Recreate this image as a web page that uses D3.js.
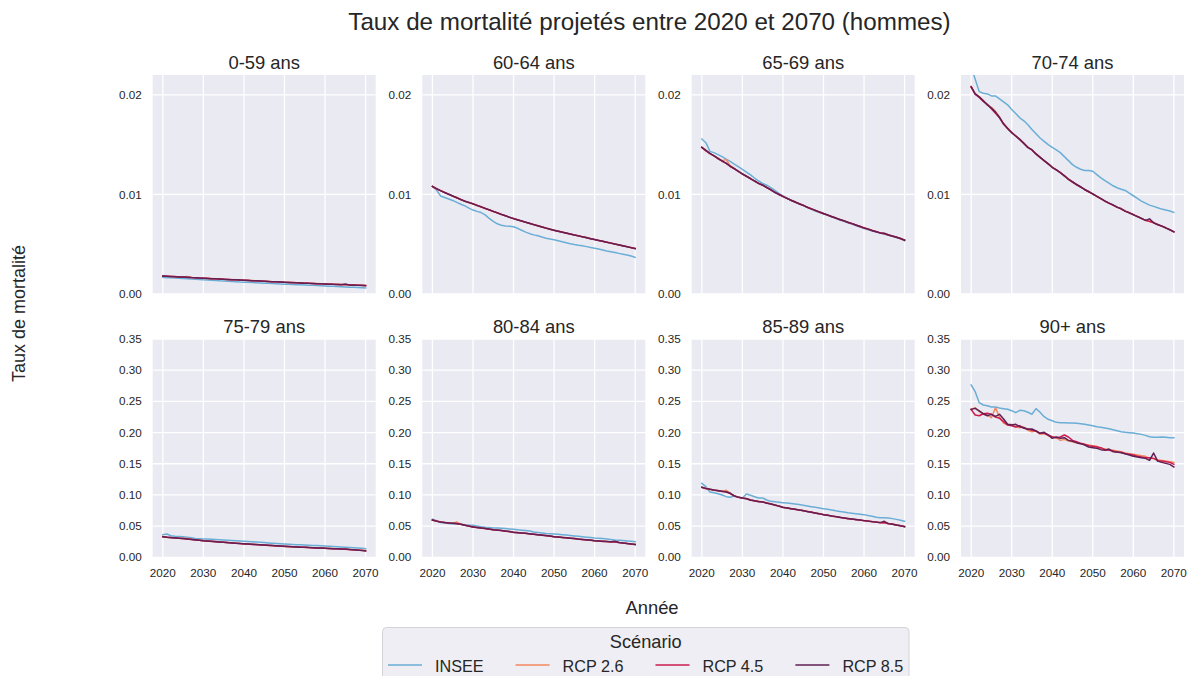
<!DOCTYPE html>
<html><head><meta charset="utf-8">
<script src="https://cdn.jsdelivr.net/npm/d3@7"></script>
<style>
body{margin:0;background:#fff;}
text{font-family:"Liberation Sans",Arial,Helvetica,sans-serif;fill:#262626;}
</style>
</head><body>
<svg id="chart" width="1190" height="676"></svg>
<script>
const years=[2020,2021,2022,2023,2024,2025,2026,2027,2028,2029,2030,2031,2032,2033,2034,2035,2036,2037,2038,2039,2040,2041,2042,2043,2044,2045,2046,2047,2048,2049,2050,2051,2052,2053,2054,2055,2056,2057,2058,2059,2060,2061,2062,2063,2064,2065,2066,2067,2068,2069,2070];
const scenarios=["INSEE","RCP 2.6","RCP 4.5","RCP 8.5"];
const scenarioColors=["#6aaed6","#f3875f","#cb1b4f","#611f53"];
const panelTitles=["0-59 ans","60-64 ans","65-69 ans","70-74 ans","75-79 ans","80-84 ans","85-89 ans","90+ ans"];
const xTicks=[2020,2030,2040,2050,2060,2070];
const yTicksTop=[0,0.01,0.02];
const yTicksBottom=[0,0.05,0.10,0.15,0.20,0.25,0.30,0.35];
const mainTitle="Taux de mortalité projetés entre 2020 et 2070 (hommes)";
const xLabel="Année", yLabel="Taux de mortalité", legendTitle="Scénario";

// 0-59 ans
const insee_0_59=[0.00167,0.00164,0.00162,0.00160,0.00157,0.00155,0.00153,0.00150,0.00148,0.00146,0.00143,0.00141,0.00138,0.00136,0.00133,0.00131,0.00129,0.00126,0.00124,0.00121,0.00119,0.00117,0.00115,0.00113,0.00111,0.00109,0.00107,0.00105,0.00103,0.00101,0.00099,0.00097,0.00095,0.00094,0.00092,0.00090,0.00088,0.00087,0.00085,0.00083,0.00081,0.00079,0.00077,0.00075,0.00073,0.00071,0.00069,0.00067,0.00065,0.00063,0.00061];
const rcp26_0_59=[0.00181,0.00178,0.00177,0.00174,0.00173,0.00171,0.00175,0.00165,0.00163,0.00161,0.00159,0.00156,0.00155,0.00152,0.00150,0.00149,0.00146,0.00145,0.00142,0.00141,0.00139,0.00136,0.00135,0.00132,0.00131,0.00128,0.00127,0.00124,0.00123,0.00121,0.00119,0.00117,0.00115,0.00113,0.00112,0.00110,0.00108,0.00106,0.00105,0.00103,0.00102,0.00100,0.00098,0.00097,0.00095,0.00094,0.00092,0.00091,0.00089,0.00088,0.00086];
const rcp45_0_59=[0.00180,0.00179,0.00176,0.00175,0.00172,0.00170,0.00167,0.00165,0.00162,0.00160,0.00158,0.00157,0.00154,0.00152,0.00151,0.00148,0.00146,0.00144,0.00143,0.00140,0.00138,0.00137,0.00134,0.00132,0.00130,0.00129,0.00126,0.00124,0.00122,0.00121,0.00118,0.00116,0.00115,0.00113,0.00111,0.00109,0.00108,0.00106,0.00104,0.00103,0.00101,0.00099,0.00098,0.00096,0.00095,0.00093,0.00092,0.00090,0.00088,0.00087,0.00085];
const rcp85_0_59=[0.00180,0.00178,0.00176,0.00174,0.00172,0.00170,0.00168,0.00165,0.00163,0.00160,0.00158,0.00156,0.00154,0.00152,0.00150,0.00148,0.00146,0.00144,0.00142,0.00140,0.00138,0.00136,0.00134,0.00132,0.00130,0.00128,0.00126,0.00124,0.00122,0.00120,0.00118,0.00116,0.00114,0.00113,0.00111,0.00109,0.00107,0.00106,0.00104,0.00102,0.00101,0.00099,0.00097,0.00096,0.00094,0.00100,0.00091,0.00089,0.00088,0.00086,0.00084];

// 60-64 ans
const insee_60_64=[0.01080,0.01045,0.00985,0.00970,0.00955,0.00940,0.00920,0.00902,0.00885,0.00862,0.00843,0.00830,0.00818,0.00795,0.00760,0.00730,0.00705,0.00690,0.00682,0.00680,0.00675,0.00660,0.00640,0.00622,0.00606,0.00594,0.00585,0.00572,0.00560,0.00552,0.00545,0.00535,0.00525,0.00515,0.00505,0.00497,0.00490,0.00484,0.00476,0.00468,0.00460,0.00452,0.00443,0.00433,0.00425,0.00417,0.00408,0.00400,0.00392,0.00382,0.00368];
const rcp26_60_64=[0.01081,0.01058,0.01037,0.01021,0.01001,0.00985,0.00972,0.00948,0.00931,0.00920,0.00904,0.00891,0.00874,0.00861,0.00844,0.00831,0.00814,0.00801,0.00785,0.00772,0.00756,0.00746,0.00732,0.00722,0.00708,0.00698,0.00684,0.00675,0.00661,0.00652,0.00639,0.00632,0.00620,0.00613,0.00601,0.00594,0.00583,0.00576,0.00565,0.00557,0.00546,0.00539,0.00528,0.00521,0.00510,0.00503,0.00492,0.00485,0.00474,0.00467,0.00458];
const rcp45_60_64=[0.01080,0.01057,0.01039,0.01019,0.01003,0.00983,0.00967,0.00948,0.00933,0.00918,0.00906,0.00889,0.00876,0.00859,0.00846,0.00829,0.00816,0.00799,0.00787,0.00770,0.00758,0.00744,0.00734,0.00720,0.00710,0.00696,0.00686,0.00673,0.00663,0.00650,0.00641,0.00630,0.00622,0.00611,0.00603,0.00592,0.00585,0.00574,0.00567,0.00555,0.00548,0.00537,0.00530,0.00519,0.00512,0.00501,0.00494,0.00483,0.00476,0.00465,0.00456];
const rcp85_60_64=[0.01080,0.01058,0.01038,0.01020,0.01002,0.00984,0.00966,0.00949,0.00932,0.00919,0.00905,0.00890,0.00875,0.00860,0.00845,0.00830,0.00815,0.00800,0.00786,0.00771,0.00757,0.00745,0.00733,0.00721,0.00709,0.00697,0.00685,0.00674,0.00662,0.00651,0.00640,0.00631,0.00621,0.00612,0.00602,0.00593,0.00584,0.00575,0.00566,0.00556,0.00547,0.00538,0.00529,0.00520,0.00511,0.00502,0.00493,0.00484,0.00475,0.00466,0.00457];

// 65-69 ans
const insee_65_69=[0.01557,0.01520,0.01433,0.01420,0.01400,0.01380,0.01355,0.01332,0.01305,0.01280,0.01253,0.01225,0.01197,0.01165,0.01135,0.01112,0.01093,0.01068,0.01040,0.01010,0.00985,0.00962,0.00940,0.00921,0.00907,0.00891,0.00870,0.00850,0.00834,0.00818,0.00805,0.00790,0.00775,0.00760,0.00744,0.00730,0.00716,0.00702,0.00688,0.00673,0.00658,0.00645,0.00633,0.00622,0.00612,0.00600,0.00590,0.00579,0.00567,0.00555,0.00538];
const rcp26_65_69=[0.01475,0.01445,0.01410,0.01386,0.01365,0.01340,0.01350,0.01290,0.01262,0.01230,0.01210,0.01180,0.01162,0.01133,0.01115,0.01090,0.01072,0.01045,0.01025,0.00998,0.00982,0.00958,0.00944,0.00922,0.00909,0.00888,0.00874,0.00853,0.00842,0.00821,0.00810,0.00791,0.00780,0.00761,0.00751,0.00733,0.00723,0.00705,0.00695,0.00676,0.00666,0.00650,0.00640,0.00624,0.00616,0.00608,0.00591,0.00584,0.00568,0.00560,0.00538];
const rcp45_65_69=[0.01470,0.01437,0.01410,0.01390,0.01358,0.01334,0.01315,0.01281,0.01258,0.01235,0.01203,0.01185,0.01157,0.01137,0.01110,0.01095,0.01068,0.01049,0.01020,0.01002,0.00978,0.00962,0.00940,0.00926,0.00905,0.00892,0.00870,0.00857,0.00838,0.00825,0.00806,0.00795,0.00776,0.00765,0.00747,0.00737,0.00719,0.00709,0.00691,0.00680,0.00662,0.00654,0.00636,0.00628,0.00612,0.00605,0.00595,0.00580,0.00572,0.00556,0.00542];
const rcp85_65_69=[0.01473,0.01442,0.01412,0.01388,0.01362,0.01337,0.01312,0.01285,0.01260,0.01232,0.01207,0.01183,0.01160,0.01135,0.01112,0.01093,0.01070,0.01047,0.01022,0.01000,0.00980,0.00960,0.00942,0.00924,0.00907,0.00890,0.00872,0.00855,0.00840,0.00823,0.00808,0.00793,0.00778,0.00763,0.00749,0.00735,0.00721,0.00707,0.00693,0.00678,0.00664,0.00652,0.00638,0.00626,0.00614,0.00611,0.00593,0.00582,0.00570,0.00558,0.00540];

// 70-74 ans
const insee_70_74=[0.02290,0.02157,0.02033,0.02017,0.02010,0.01990,0.01990,0.01960,0.01930,0.01900,0.01853,0.01813,0.01770,0.01740,0.01700,0.01653,0.01610,0.01567,0.01533,0.01500,0.01473,0.01447,0.01420,0.01380,0.01340,0.01300,0.01273,0.01253,0.01240,0.01240,0.01233,0.01200,0.01167,0.01140,0.01113,0.01087,0.01067,0.01053,0.01040,0.01013,0.00987,0.00960,0.00933,0.00913,0.00893,0.00880,0.00867,0.00853,0.00843,0.00833,0.00820];
const rcp26_70_74=[0.02078,0.02012,0.01982,0.01945,0.01898,0.01875,0.01835,0.01778,0.01705,0.01668,0.01625,0.01583,0.01557,0.01510,0.01476,0.01444,0.01410,0.01370,0.01342,0.01305,0.01276,0.01244,0.01222,0.01184,0.01156,0.01122,0.01102,0.01072,0.01053,0.01024,0.01008,0.00977,0.00961,0.00930,0.00916,0.00890,0.00876,0.00852,0.00836,0.00812,0.00800,0.00775,0.00763,0.00737,0.00732,0.00712,0.00700,0.00680,0.00667,0.00643,0.00627];
const rcp45_70_74=[0.02085,0.02005,0.01975,0.01935,0.01905,0.01860,0.01815,0.01770,0.01712,0.01665,0.01622,0.01590,0.01550,0.01515,0.01470,0.01450,0.01405,0.01375,0.01338,0.01310,0.01270,0.01250,0.01218,0.01190,0.01150,0.01128,0.01097,0.01078,0.01047,0.01030,0.01002,0.00983,0.00955,0.00936,0.00910,0.00896,0.00870,0.00858,0.00830,0.00818,0.00795,0.00780,0.00757,0.00742,0.00728,0.00718,0.00695,0.00684,0.00662,0.00647,0.00622];
const rcp85_70_74=[0.02080,0.02010,0.01980,0.01940,0.01900,0.01867,0.01827,0.01773,0.01707,0.01660,0.01620,0.01587,0.01553,0.01513,0.01473,0.01447,0.01407,0.01373,0.01340,0.01307,0.01273,0.01247,0.01220,0.01187,0.01153,0.01125,0.01100,0.01075,0.01050,0.01027,0.01005,0.00980,0.00958,0.00933,0.00913,0.00893,0.00873,0.00855,0.00833,0.00815,0.00798,0.00778,0.00760,0.00740,0.00755,0.00715,0.00698,0.00682,0.00665,0.00645,0.00625];

// 75-79 ans
const insee_75_79=[0.0363,0.0374,0.0345,0.0338,0.0333,0.0328,0.0322,0.0312,0.0303,0.0298,0.0294,0.0292,0.0290,0.0287,0.0283,0.0279,0.0275,0.0271,0.0267,0.0262,0.0257,0.0252,0.0248,0.0244,0.0240,0.0236,0.0231,0.0226,0.0222,0.0218,0.0214,0.0210,0.0206,0.0203,0.0200,0.0197,0.0194,0.0191,0.0188,0.0185,0.0182,0.0178,0.0175,0.0171,0.0167,0.0163,0.0158,0.0154,0.0149,0.0144,0.0139];
const rcp26_75_79=[0.0332,0.0321,0.0317,0.0310,0.0307,0.0299,0.0305,0.0286,0.0281,0.0272,0.0267,0.0260,0.0257,0.0250,0.0247,0.0240,0.0237,0.0230,0.0227,0.0220,0.0217,0.0211,0.0209,0.0203,0.0201,0.0195,0.0193,0.0187,0.0185,0.0179,0.0177,0.0171,0.0170,0.0165,0.0164,0.0159,0.0158,0.0153,0.0152,0.0147,0.0146,0.0141,0.0140,0.0135,0.0134,0.0129,0.0126,0.0122,0.0117,0.0112,0.0107];
const rcp45_75_79=[0.0330,0.0323,0.0315,0.0312,0.0305,0.0301,0.0293,0.0288,0.0279,0.0274,0.0265,0.0262,0.0255,0.0252,0.0245,0.0242,0.0235,0.0232,0.0225,0.0222,0.0215,0.0213,0.0207,0.0205,0.0199,0.0197,0.0191,0.0189,0.0183,0.0181,0.0175,0.0173,0.0168,0.0167,0.0162,0.0161,0.0156,0.0155,0.0150,0.0149,0.0144,0.0143,0.0138,0.0137,0.0132,0.0131,0.0126,0.0121,0.0116,0.0111,0.0106];
const rcp85_75_79=[0.0331,0.0322,0.0316,0.0311,0.0306,0.0300,0.0294,0.0287,0.0280,0.0273,0.0266,0.0261,0.0256,0.0251,0.0246,0.0241,0.0236,0.0231,0.0226,0.0221,0.0216,0.0212,0.0208,0.0204,0.0200,0.0196,0.0192,0.0188,0.0184,0.0180,0.0176,0.0172,0.0169,0.0166,0.0163,0.0160,0.0157,0.0154,0.0151,0.0148,0.0145,0.0142,0.0139,0.0136,0.0133,0.0135,0.0125,0.0120,0.0115,0.0110,0.0104];

// 80-84 ans
const insee_80_84=[0.0609,0.0585,0.0556,0.0548,0.0540,0.0534,0.0540,0.0530,0.0522,0.0516,0.0513,0.0500,0.0490,0.0482,0.0476,0.0470,0.0470,0.0466,0.0461,0.0455,0.0449,0.0442,0.0435,0.0428,0.0420,0.0406,0.0398,0.0390,0.0383,0.0378,0.0374,0.0368,0.0362,0.0356,0.0349,0.0342,0.0336,0.0330,0.0323,0.0316,0.0310,0.0306,0.0301,0.0294,0.0286,0.0278,0.0273,0.0268,0.0262,0.0256,0.0251];
const rcp26_80_84=[0.0599,0.0579,0.0567,0.0556,0.0552,0.0544,0.0566,0.0529,0.0516,0.0499,0.0486,0.0476,0.0471,0.0461,0.0453,0.0441,0.0438,0.0429,0.0422,0.0411,0.0401,0.0394,0.0391,0.0383,0.0378,0.0369,0.0363,0.0354,0.0349,0.0339,0.0331,0.0323,0.0320,0.0312,0.0308,0.0299,0.0293,0.0285,0.0281,0.0274,0.0266,0.0260,0.0258,0.0252,0.0251,0.0245,0.0239,0.0228,0.0223,0.0213,0.0206];
const rcp45_80_84=[0.0597,0.0582,0.0565,0.0558,0.0550,0.0546,0.0538,0.0531,0.0513,0.0502,0.0484,0.0478,0.0468,0.0463,0.0450,0.0443,0.0435,0.0431,0.0419,0.0413,0.0399,0.0396,0.0388,0.0385,0.0375,0.0371,0.0360,0.0356,0.0346,0.0341,0.0329,0.0325,0.0317,0.0314,0.0305,0.0301,0.0291,0.0287,0.0278,0.0276,0.0264,0.0262,0.0255,0.0254,0.0246,0.0244,0.0236,0.0230,0.0221,0.0215,0.0204];
const rcp85_80_84=[0.0598,0.0580,0.0566,0.0557,0.0551,0.0545,0.0540,0.0530,0.0515,0.0500,0.0485,0.0477,0.0470,0.0462,0.0452,0.0442,0.0437,0.0430,0.0421,0.0412,0.0400,0.0395,0.0390,0.0384,0.0377,0.0370,0.0362,0.0355,0.0348,0.0340,0.0330,0.0324,0.0319,0.0313,0.0307,0.0300,0.0292,0.0286,0.0280,0.0275,0.0265,0.0261,0.0257,0.0253,0.0250,0.0258,0.0238,0.0229,0.0222,0.0214,0.0205];

// 85-89 ans
const insee_85_89=[0.1186,0.1132,0.1047,0.1036,0.1018,0.0999,0.0972,0.0962,0.0983,0.0962,0.0951,0.1015,0.0994,0.0972,0.0951,0.0951,0.0919,0.0897,0.0890,0.0883,0.0876,0.0870,0.0863,0.0855,0.0845,0.0833,0.0822,0.0812,0.0802,0.0791,0.0780,0.0770,0.0758,0.0746,0.0736,0.0726,0.0716,0.0708,0.0700,0.0692,0.0684,0.0670,0.0658,0.0641,0.0636,0.0633,0.0630,0.0620,0.0608,0.0594,0.0577];
const rcp26_85_89=[0.1125,0.1108,0.1088,0.1080,0.1066,0.1060,0.1075,0.1030,0.0980,0.0968,0.0953,0.0938,0.0922,0.0903,0.0898,0.0885,0.0875,0.0852,0.0843,0.0818,0.0804,0.0788,0.0783,0.0768,0.0763,0.0746,0.0738,0.0720,0.0713,0.0695,0.0687,0.0672,0.0666,0.0650,0.0644,0.0628,0.0624,0.0611,0.0608,0.0595,0.0591,0.0578,0.0575,0.0562,0.0559,0.0550,0.0543,0.0528,0.0521,0.0503,0.0494];
const rcp45_85_89=[0.1120,0.1100,0.1093,0.1075,0.1070,0.1055,0.1050,0.1022,0.0985,0.0962,0.0948,0.0942,0.0915,0.0908,0.0892,0.0889,0.0868,0.0858,0.0836,0.0823,0.0798,0.0793,0.0777,0.0772,0.0757,0.0750,0.0732,0.0725,0.0707,0.0700,0.0681,0.0677,0.0660,0.0655,0.0638,0.0633,0.0618,0.0616,0.0602,0.0600,0.0585,0.0583,0.0569,0.0567,0.0553,0.0557,0.0537,0.0533,0.0515,0.0508,0.0488];
const rcp85_85_89=[0.1122,0.1105,0.1090,0.1078,0.1068,0.1058,0.1047,0.1026,0.0983,0.0965,0.0951,0.0940,0.0919,0.0905,0.0895,0.0887,0.0872,0.0855,0.0840,0.0820,0.0801,0.0790,0.0780,0.0770,0.0760,0.0748,0.0735,0.0722,0.0710,0.0697,0.0684,0.0674,0.0663,0.0652,0.0641,0.0630,0.0621,0.0613,0.0605,0.0597,0.0588,0.0580,0.0572,0.0564,0.0556,0.0577,0.0540,0.0530,0.0518,0.0505,0.0491];

// 90+ ans
const insee_90p=[0.2763,0.2655,0.2479,0.2442,0.2431,0.2410,0.2410,0.2394,0.2383,0.2373,0.2351,0.2319,0.2357,0.2350,0.2325,0.2293,0.2383,0.2325,0.2254,0.2212,0.2190,0.2164,0.2159,0.2159,0.2153,0.2153,0.2148,0.2142,0.2132,0.2121,0.2110,0.2094,0.2084,0.2073,0.2062,0.2046,0.2030,0.2014,0.2004,0.1998,0.1993,0.1982,0.1971,0.1955,0.1934,0.1923,0.1923,0.1928,0.1923,0.1918,0.1918];
const rcp26_90p=[0.2372,0.2399,0.2335,0.2292,0.2281,0.2238,0.2399,0.2249,0.2153,0.2121,0.2132,0.2094,0.2078,0.2089,0.2036,0.2014,0.2025,0.1972,0.1982,0.1950,0.1929,0.1918,0.1875,0.1891,0.1865,0.1854,0.1833,0.1822,0.1811,0.1800,0.1790,0.1779,0.1747,0.1736,0.1726,0.1715,0.1704,0.1693,0.1672,0.1661,0.1651,0.1640,0.1629,0.1619,0.1586,0.1586,0.1565,0.1554,0.1543,0.1533,0.1522];
const rcp45_90p=[0.2372,0.2281,0.2270,0.2302,0.2308,0.2292,0.2249,0.2228,0.2175,0.2121,0.2110,0.2089,0.2110,0.2068,0.2057,0.2036,0.2025,0.1988,0.1988,0.1961,0.1934,0.1918,0.1929,0.1961,0.1929,0.1875,0.1854,0.1827,0.1811,0.1790,0.1779,0.1768,0.1758,0.1726,0.1715,0.1704,0.1683,0.1683,0.1661,0.1651,0.1640,0.1619,0.1608,0.1597,0.1597,0.1586,0.1549,0.1543,0.1533,0.1522,0.1490];
const rcp85_90p=[0.2372,0.2388,0.2346,0.2302,0.2270,0.2292,0.2260,0.2292,0.2217,0.2132,0.2121,0.2132,0.2094,0.2078,0.2052,0.2057,0.2025,0.1988,0.2004,0.1961,0.1907,0.1929,0.1907,0.1918,0.1875,0.1859,0.1838,0.1822,0.1800,0.1768,0.1758,0.1747,0.1726,0.1715,0.1736,0.1693,0.1688,0.1677,0.1661,0.1640,0.1619,0.1608,0.1597,0.1586,0.1554,0.1672,0.1543,0.1522,0.1506,0.1490,0.1448];

const panelSeries=[
  [insee_0_59,rcp26_0_59,rcp45_0_59,rcp85_0_59],
  [insee_60_64,rcp26_60_64,rcp45_60_64,rcp85_60_64],
  [insee_65_69,rcp26_65_69,rcp45_65_69,rcp85_65_69],
  [insee_70_74,rcp26_70_74,rcp45_70_74,rcp85_70_74],
  [insee_75_79,rcp26_75_79,rcp45_75_79,rcp85_75_79],
  [insee_80_84,rcp26_80_84,rcp45_80_84,rcp85_80_84],
  [insee_85_89,rcp26_85_89,rcp45_85_89,rcp85_85_89],
  [insee_90p,rcp26_90p,rcp45_90p,rcp85_90p]
];

// ---- layout ----
const svg=d3.select("#chart");
const colLeft=[152.7,422.3,691.7,961];
const pw=223;
const rows=[{top:75,bottom:294,dom:[0,0.022],ticks:yTicksTop,fmt:d3.format(".2f")},
            {top:339,bottom:557.3,dom:[0,0.35],ticks:yTicksBottom,fmt:d3.format(".2f")}];

svg.append("text").attr("x",649.5).attr("y",30).attr("text-anchor","middle")
  .style("font-size","24.2px").text(mainTitle);

const defs=svg.append("defs");

panelSeries.forEach((series,i)=>{
  const r=rows[Math.floor(i/4)], c=i%4;
  const x0=colLeft[c], x1=x0+pw;
  const x=d3.scaleLinear().domain([2017.5,2072.5]).range([x0,x1]);
  const y=d3.scaleLinear().domain(r.dom).range([r.bottom,r.top]);
  const g=svg.append("g");
  g.append("rect").attr("x",x0).attr("y",r.top).attr("width",pw).attr("height",r.bottom-r.top).attr("fill","#eaeaf2");
  // grid
  g.append("g").selectAll("line").data(xTicks).join("line")
    .attr("x1",d=>x(d)).attr("x2",d=>x(d)).attr("y1",r.top).attr("y2",r.bottom)
    .attr("stroke","#fff").attr("stroke-width",1.3);
  g.append("g").selectAll("line").data(r.ticks).join("line")
    .attr("x1",x0).attr("x2",x1).attr("y1",d=>y(d)).attr("y2",d=>y(d))
    .attr("stroke","#fff").attr("stroke-width",1.3);
  // y tick labels
  g.append("g").selectAll("text").data(r.ticks).join("text")
    .attr("x",x0-11).attr("y",d=>y(d)).attr("dy","0.35em").attr("text-anchor","end")
    .style("font-size","11.7px").text(d=>r.fmt(d));
  // x tick labels bottom row only
  if(i>=4){
    g.append("g").selectAll("text").data(xTicks).join("text")
      .attr("x",d=>x(d)).attr("y",r.bottom+19.7).attr("text-anchor","middle")
      .style("font-size","11.7px").text(d=>d);
  }
  // title
  g.append("text").attr("x",(x0+x1)/2).attr("y",r.top-6.5).attr("text-anchor","middle")
    .style("font-size","18.4px").text(panelTitles[i]);
  // clip
  const cid="clip"+i;
  defs.append("clipPath").attr("id",cid).append("rect")
    .attr("x",x0).attr("y",r.top).attr("width",pw).attr("height",r.bottom-r.top);
  const line=d3.line().x((d,k)=>x(years[k])).y(d=>y(d));
  const lg=g.append("g").attr("clip-path",`url(#${cid})`);
  series.forEach((s,k)=>{
    lg.append("path").datum(s).attr("d",line).attr("fill","none")
      .attr("stroke",scenarioColors[k]).attr("stroke-width",1.5)
      .attr("stroke-linejoin","round").attr("stroke-linecap","square");
  });
});

// axis labels
svg.append("text").attr("x",652).attr("y",614).attr("text-anchor","middle")
  .style("font-size","18.4px").text(xLabel);
svg.append("text").attr("transform","translate(25,313.5) rotate(-90)").attr("text-anchor","middle")
  .style("font-size","18px").text(yLabel);

// legend
const lgx=382.5, lgy=627.5, lgw=526.5;
const leg=svg.append("g");
leg.append("rect").attr("x",lgx).attr("y",lgy).attr("width",lgw).attr("height",60).attr("rx",4)
  .attr("fill","#eeeef4").attr("stroke","#d4d4d8").attr("stroke-width",1);
leg.append("text").attr("x",lgx+lgw/2).attr("y",648).attr("text-anchor","middle")
  .style("font-size","18.2px").text(legendTitle);
let cx=388;
scenarios.forEach((s,k)=>{
  leg.append("line").attr("x1",cx).attr("x2",cx+34).attr("y1",665).attr("y2",665)
    .attr("stroke",scenarioColors[k]).attr("stroke-width",1.5);
  const t=leg.append("text").attr("x",cx+47).attr("y",671.5).style("font-size","16.2px").text(s);
  cx=cx+47+t.node().getComputedTextLength()+32;
});
</script>
</body></html>
